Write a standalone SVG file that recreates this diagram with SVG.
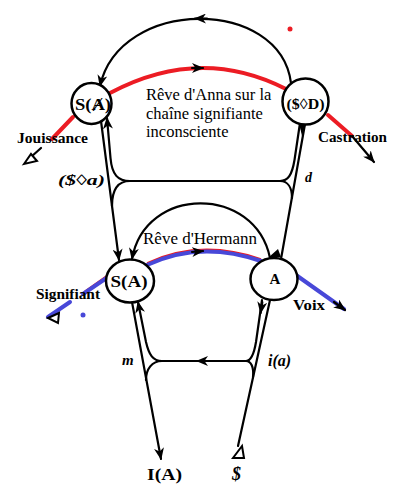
<svg xmlns="http://www.w3.org/2000/svg" width="401" height="500" viewBox="0 0 401 500">
<defs>
<marker id="ah" viewBox="0 0 12 10" refX="11" refY="5" markerWidth="12" markerHeight="10" markerUnits="userSpaceOnUse" orient="auto-start-reverse">
<path d="M0,0 L12,5 L0,10 L3.5,5 z" fill="#000"/>
</marker>
<style>
.ln{fill:none;stroke:#000;stroke-width:2.2;stroke-linecap:round}
.nd{fill:#fff;stroke:#000;stroke-width:2.5}
.lb{font-family:"Liberation Serif","DejaVu Serif",serif;font-weight:bold;fill:#000}
.it{font-family:"Liberation Serif","DejaVu Serif",serif;font-weight:bold;font-style:italic;fill:#000}
.tx{font-family:"Liberation Serif",serif;font-size:16.5px;fill:#000}
.red{fill:none;stroke:#ec1c24;stroke-width:4;stroke-linecap:round}
.rt{fill:none;stroke:#ec1c24;stroke-width:1.6}
.blue{fill:none;stroke:#4848d8;stroke-width:4;stroke-linecap:round}
.tri{fill:#fff;stroke:#000;stroke-width:2;stroke-linejoin:miter}
</style>
</defs>
<rect width="401" height="500" fill="#fff"/>
<g id="connectors">
<path class="ln" d="M 291 83 C 280 -3, 120 -3, 100 86" marker-end="url(#ah)"/>
<path class="ln" d="M 207 18.5 L 195 18.5" marker-end="url(#ah)"/>
<path class="red" d="M 110 93 Q 200 45 286 89"/>
<path class="ln" d="M 192 68 L 203 68" marker-end="url(#ah)"/>
<path class="red" d="M 73 117 L 52 139"/>
<path class="ln" d="M 41 148 L 31 157"/>
<polygon class="tri" points="24,164 31,154 37,161"/>
<path class="red" d="M 328 115 L 352 136"/>
<path class="ln" d="M 352 136 L 374 162" marker-end="url(#ah)"/>
<path class="ln" d="M 101 121 L 119 260" marker-end="url(#ah)"/>
<path class="ln" d="M 107 118 L 110.5 158 C 112 175 118 181 130 181" marker-start="url(#ah)"/>
<path class="ln" d="M 130 181 L 280 181"/>
<path class="ln" d="M 130 181 C 118 181 112 190 112 206"/>
<path class="ln" d="M 305 124 L 281 259"/>
<path class="ln" d="M 300 123 L 294.5 160 C 292 175 288 181 280 181"/>
<path class="ln" d="M 280 181 C 288 181 292 188 292 198"/>
<polygon points="299,123 306,124 302,136" fill="#000"/>
<path class="ln" d="M 270 258 C 255 185 145 185 132 259" marker-end="url(#ah)"/>
<polygon points="269,257 281,257 278,249" fill="#000"/>
<path class="rt" d="M 84 292 L 108 275"/>
<path class="blue" d="M 48 317 L 70 302"/>
<path class="blue" d="M 83 294 L 108 277"/>
<polygon class="tri" points="48,318 59,313 58,323"/>
<path class="rt" d="M 147 263 Q 200 238 261 259"/>
<path class="blue" d="M 147 265 Q 200 240 261 261"/>
<path class="ln" d="M 192 252 L 203 251" marker-end="url(#ah)"/>
<path class="blue" d="M 296 275 L 344 309"/>
<path class="ln" d="M 334 302 L 345 310" marker-end="url(#ah)"/>
<path class="ln" d="M 132 302 L 161 459" marker-end="url(#ah)"/>
<path class="ln" d="M 138 302 L 146 342 C 149 355 153 361 162 361" marker-start="url(#ah)"/>
<path class="ln" d="M 162 361 L 246 361"/>
<path class="ln" d="M 208 361 L 197 361" marker-end="url(#ah)"/>
<path class="ln" d="M 162 361 C 152 361 146 369 146 380"/>
<path class="ln" d="M 270 300 L 238 446"/>
<path class="ln" d="M 262 300 L 256 342 C 254 354 251 361 246 361"/>
<path class="ln" d="M 262.3 302 L 260.6 313" marker-end="url(#ah)"/>
<path class="ln" d="M 246 361 C 251 361 254 367 253 377"/>
<polygon class="tri" points="242,446 233,458 244,458"/>
</g>
<g id="node-SbarA">
<ellipse class="nd" cx="91.5" cy="103.5" rx="20" ry="20.5"/>
<text class="lb" x="93" y="110" font-size="16" textLength="36" lengthAdjust="spacingAndGlyphs" text-anchor="middle">S(Ⱥ)</text>
</g>
<g id="node-SD">
<circle class="nd" cx="305.5" cy="101.5" r="23"/>
<text class="lb" x="305.5" y="109" font-size="15" textLength="38" lengthAdjust="spacingAndGlyphs" text-anchor="middle">($◊D)</text>
</g>
<g id="node-SA">
<ellipse class="nd" cx="130" cy="281" rx="24" ry="21.5"/>
<text class="lb" x="129" y="287" font-size="17" textLength="37" lengthAdjust="spacingAndGlyphs" text-anchor="middle">S(A)</text>
</g>
<g id="node-A">
<ellipse class="nd" cx="274" cy="279" rx="23.5" ry="21"/>
<text class="lb" x="275" y="284" font-size="15" text-anchor="middle">A</text>
</g>
<g id="labels">
<text class="lb" x="17" y="143" font-size="15" textLength="71" lengthAdjust="spacingAndGlyphs">Jouissance</text>
<text class="lb" x="318" y="142" font-size="14.5" textLength="69" lengthAdjust="spacingAndGlyphs">Castration</text>
<text class="lb" x="36" y="299" font-size="14" textLength="64" lengthAdjust="spacingAndGlyphs">Signifiant</text>
<text class="lb" x="293" y="310" font-size="14" textLength="32" lengthAdjust="spacingAndGlyphs">Voix</text>
<text class="lb" x="147" y="480" font-size="16" textLength="35" lengthAdjust="spacingAndGlyphs">I(A)</text>
<text class="it" x="232" y="480" font-size="18">$</text>
<text class="it" x="122" y="365" font-size="15">m</text>
<text class="it" x="268" y="366" font-size="16">i(a)</text>
<text class="it" x="305" y="182" font-size="14">d</text>
<text class="it" x="58" y="185" font-size="15" textLength="47" lengthAdjust="spacingAndGlyphs">($◊a)</text>
<text class="tx" x="146" y="100">Rêve d'Anna sur la</text>
<text class="tx" x="146" y="118.5">chaîne signifiante</text>
<text class="tx" x="146" y="137">inconsciente</text>
<text class="tx" x="143" y="244" font-size="16" textLength="114" lengthAdjust="spacingAndGlyphs">Rêve d'Hermann</text>
</g>
<circle cx="290" cy="29" r="2.5" fill="#ec1c24"/>
<circle cx="83" cy="315" r="2.5" fill="#4848d8"/>
</svg>
